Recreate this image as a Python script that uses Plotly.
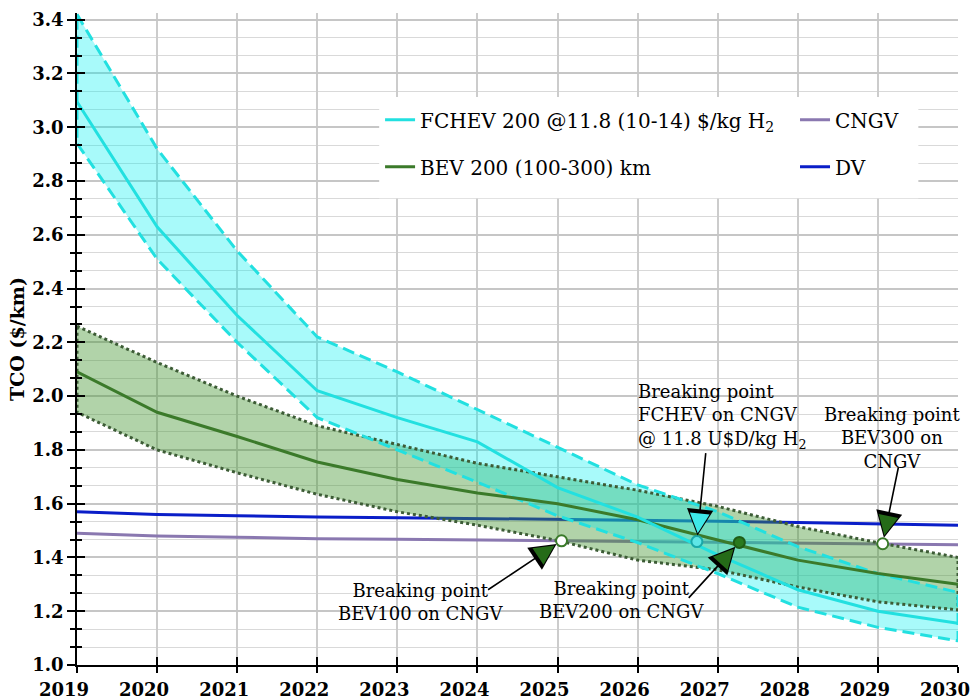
import plotly.graph_objects as go

# ---------------- data ----------------
years = [2019, 2020, 2021, 2022, 2023, 2024, 2025, 2026, 2027, 2028, 2029, 2030]

fchev_mid = [3.095, 2.63, 2.30, 2.02, 1.92, 1.83, 1.66, 1.55, 1.41, 1.28, 1.20, 1.155]
fchev_hi = [3.42, 2.92, 2.54, 2.22, 2.09, 1.95, 1.81, 1.67, 1.57, 1.44, 1.34, 1.27]
fchev_lo = [2.94, 2.51, 2.20, 1.92, 1.80, 1.68, 1.555, 1.455, 1.34, 1.215, 1.14, 1.09]

bev_mid = [2.09, 1.94, 1.85, 1.755, 1.69, 1.64, 1.60, 1.54, 1.465, 1.39, 1.34, 1.30]
bev_hi = [2.26, 2.125, 2.00, 1.89, 1.82, 1.75, 1.70, 1.65, 1.59, 1.515, 1.455, 1.40]
bev_lo = [1.94, 1.80, 1.715, 1.635, 1.57, 1.52, 1.463, 1.39, 1.354, 1.29, 1.235, 1.205]

dv = [1.57, 1.56, 1.555, 1.55, 1.548, 1.545, 1.54, 1.537, 1.535, 1.53, 1.525, 1.52]
cngv = [1.49, 1.48, 1.475, 1.47, 1.468, 1.465, 1.462, 1.46, 1.457, 1.453, 1.45, 1.447]

bp_x = [2025.05, 2026.74, 2027.27, 2029.06]
bp_y = [1.462, 1.459, 1.456, 1.451]
bp_labels = [
    "Breaking point<br>BEV100 on CNGV",
    "Breaking point<br>FCHEV on CNGV<br>@ 11.8 U$D/kg H<sub>2</sub>",
    "Breaking point<br>BEV200 on CNGV",
    "Breaking point<br>BEV300 on<br>CNGV",
]

legend_names = [
    "FCHEV 200 @11.8 (10-14) $/kg H<sub>2</sub>",
    "BEV 200 (100-300) km",
    "CNGV",
    "DV",
]

# ---------------- style ----------------
FONT = "DejaVu Serif"
C_CYAN = "#22e0e0"
C_CYAN_FILL = "rgba(0,240,240,0.34)"
C_GREEN = "#3b7a2a"
C_GREEN_DOT = "#3d5c36"
C_GREEN_FILL = "rgba(70,150,50,0.42)"
C_DV = "#0a1ec8"
C_CNGV = "#8a78b0"

fig = go.Figure()

# reference lines (below bands)
fig.add_trace(go.Scatter(x=years, y=dv, mode="lines", name=legend_names[3],
                         line=dict(color=C_DV, width=3), legend="legend2",
                         legendgroup="dv", legendrank=2))
fig.add_trace(go.Scatter(x=years, y=cngv, mode="lines", name=legend_names[2],
                         line=dict(color=C_CNGV, width=3), legend="legend2",
                         legendgroup="cngv", legendrank=1))

# band polygons
bev_px = years + years[::-1] + years[:1]
bev_py = bev_hi + bev_lo[::-1] + bev_hi[:1]
fc_px = years + years[::-1] + years[:1]
fc_py = fchev_hi + fchev_lo[::-1] + fchev_hi[:1]

fig.add_trace(go.Scatter(x=bev_px, y=bev_py, mode="lines", fill="toself",
                         fillcolor=C_GREEN_FILL, line=dict(width=0),
                         showlegend=False, hoverinfo="skip"))
fig.add_trace(go.Scatter(x=fc_px, y=fc_py, mode="lines", fill="toself",
                         fillcolor=C_CYAN_FILL, line=dict(width=0),
                         showlegend=False, hoverinfo="skip"))

# band outlines
fig.add_trace(go.Scatter(x=bev_px, y=bev_py, mode="lines",
                         line=dict(color=C_GREEN_DOT, width=3, dash="3px,3px"),
                         showlegend=False, hoverinfo="skip"))
fig.add_trace(go.Scatter(x=fc_px, y=fc_py, mode="lines",
                         line=dict(color=C_CYAN, width=3, dash="12px,6px"),
                         showlegend=False, hoverinfo="skip"))

# center lines
fig.add_trace(go.Scatter(x=years, y=bev_mid, mode="lines", name=legend_names[1],
                         line=dict(color=C_GREEN, width=3), legend="legend",
                         legendgroup="bev", legendrank=2))
fig.add_trace(go.Scatter(x=years, y=fchev_mid, mode="lines", name=legend_names[0],
                         line=dict(color=C_CYAN, width=3), legend="legend",
                         legendgroup="fchev", legendrank=1))

# breaking-point markers
fig.add_trace(go.Scatter(
    x=bp_x, y=bp_y, mode="markers", showlegend=False,
    marker=dict(size=11,
                color=["white", "#5fe6e6", "#2a7a1e", "white"],
                line=dict(width=2, color=["#3a7a2a", "#1aa8a8", "#1f5c15", "#3a7a2a"])),
))

# dummy trace for overlay axes (crossing ticks)
fig.add_trace(go.Scatter(x=years[:1], y=[None], xaxis="x2", yaxis="y2",
                         mode="markers", showlegend=False, hoverinfo="skip"))

# ---------------- annotations ----------------
text_offsets = [(-141, -61, "center", "center"),
                (-61, 125, "left", "left"),
                (-118, -58, "center", "center"),
                (9, 106, "center", "center")]
arrow_tails = [(-75, 50), (9, -90), (-52, 57), (16, -78)]
head_colors = ["#256b18", "#3ee8e8", "#256b18", "#256b18"]

annotations = []
for i in range(len(bp_x)):
    ax, ay = arrow_tails[i]
    annotations.append(dict(
        x=bp_x[i], y=bp_y[i], xref="x", yref="y", ax=ax, ay=ay,
        showarrow=True, text="", arrowhead=2, arrowsize=3.3, arrowwidth=1.6,
        arrowcolor="black", standoff=6))
    L = (ax ** 2 + ay ** 2) ** 0.5
    annotations.append(dict(
        x=bp_x[i], y=bp_y[i], xref="x", yref="y",
        ax=ax / L * 20, ay=ay / L * 20,
        showarrow=True, text="", arrowhead=2, arrowsize=3.3, arrowwidth=1.2,
        arrowcolor=head_colors[i], standoff=8.5))
for i in range(len(bp_x)):
    xs, ys, xa, al = text_offsets[i]
    annotations.append(dict(
        x=bp_x[i], y=bp_y[i], xref="x", yref="y", showarrow=False,
        text=bp_labels[i], xshift=xs, yshift=ys, xanchor=xa, yanchor="middle",
        align=al, font=dict(family=FONT, size=18, color="black")))

tickfont = dict(family=FONT, size=18, color="black", weight="bold")

fig.update_layout(
    width=971, height=700,
    margin=dict(l=77, r=13, t=13, b=35),
    plot_bgcolor="white", paper_bgcolor="white",
    xaxis=dict(range=[2019, 2030], tick0=2019, dtick=1, tickformat="d",
               showgrid=True, gridcolor="#cccccc", gridwidth=1.5,
               ticks="outside", ticklen=6, tickwidth=1.5, tickcolor="black",
               showline=True, linecolor="black", linewidth=1.5,
               zeroline=False, tickfont=tickfont, automargin=False,
               ticklabeloverflow="allow", ticklabelshift=-13,
               ticklabelstandoff=2),
    yaxis=dict(range=[1.0, 3.425], tick0=1.0, dtick=0.2, tickformat=".1f",
               showgrid=True, gridcolor="#c6c6c6", gridwidth=1.5,
               ticks="outside", ticklen=8, tickwidth=1.5, tickcolor="black",
               showline=True, linecolor="black", linewidth=1.5,
               zeroline=False, tickfont=tickfont, automargin=False,
               ticklabeloverflow="allow",
               minor=dict(dtick=0.2 / 3, ticks="outside", ticklen=5,
                          tickwidth=1.5, tickcolor="black",
                          showgrid=True, gridcolor="#d9d9d9", gridwidth=1.2),
               title=dict(text="TCO ($/km)", standoff=3,
                          font=dict(family=FONT, size=19, color="black",
                                    weight="bold"))),
    xaxis2=dict(range=[2019, 2030], overlaying="x", anchor="y2", side="bottom",
                tick0=2019, dtick=1, ticks="inside", ticklen=8, tickwidth=1.5,
                tickcolor="black", showticklabels=False, showgrid=False,
                zeroline=False, showline=False),
    yaxis2=dict(range=[1.0, 3.425], overlaying="y", anchor="x2", side="left",
                tick0=1.0, dtick=0.2, ticks="inside", ticklen=8, tickwidth=1.5,
                tickcolor="black", showticklabels=False, showgrid=False,
                zeroline=False, showline=False,
                minor=dict(dtick=0.2 / 3, ticks="inside", ticklen=5,
                           tickwidth=1.5, tickcolor="black", showgrid=False)),
    legend=dict(x=0.344, y=0.866, xanchor="left", yanchor="top",
                bgcolor="rgba(0,0,0,0)", traceorder="grouped", tracegroupgap=18,
                font=dict(family=FONT, size=20, color="black")),
    legend2=dict(x=0.815, y=0.866, xanchor="left", yanchor="top",
                 bgcolor="rgba(0,0,0,0)", traceorder="grouped", tracegroupgap=18,
                 font=dict(family=FONT, size=20, color="black")),
    shapes=[dict(type="rect", xref="paper", yref="paper",
                 x0=0.343, x1=0.955, y0=0.716, y1=0.871,
                 fillcolor="white", line=dict(width=0), layer="above")],
    annotations=annotations,
    showlegend=True,
)

fig.write_html("out.html", config={"displayModeBar": False},
               post_script="document.body.style.margin='0';")
